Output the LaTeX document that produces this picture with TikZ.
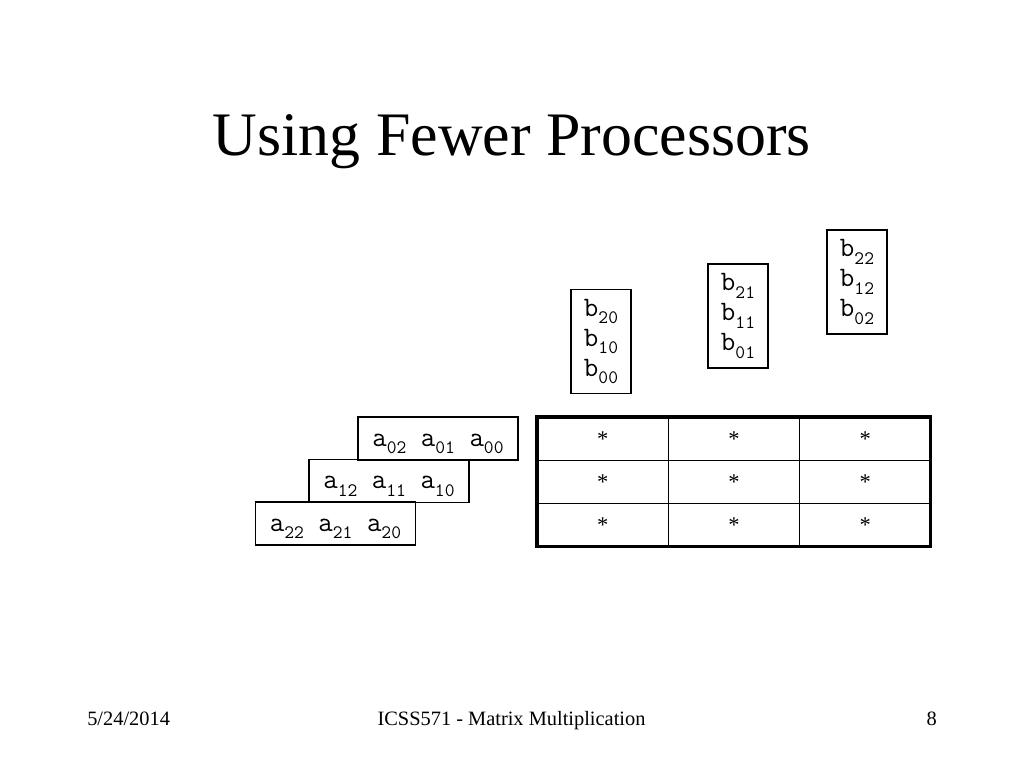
\documentclass[tikz,border=0pt]{standalone}
\usepackage{fontspec}
\setmainfont{Liberation Serif}
\usetikzlibrary{positioning}
\tikzset{arow/.style={draw,rectangle, line width=0.8pt, inner sep=0pt, outer sep=0pt,
    minimum width=4cm, minimum height=1.075cm, text height=0.5cm, text depth=0.125cm,
    font=\fontsize{20}{21.3}\ttfamily},
  bcol/.style={draw,rectangle, line width=0.8pt, inner sep=0pt, outer sep=0pt,
    minimum width=1.5cm, minimum height=2.6cm, align=left,
    font=\fontsize{20}{21.3}\ttfamily},
  cell/.style={draw,rectangle, line width=0.9pt, inner sep=0pt, outer sep=0pt,
    minimum width=3.283cm, minimum height=1.083cm, font=\fontsize{16}{18}\selectfont},
  foot/.style={anchor=base, inner sep=0pt, font=\fontsize{14.5}{16}\selectfont}}
\newcommand{\sbs}[1]{\raisebox{-0.27em}{\fontsize{13.5}{14}\selectfont #1}}

\begin{document}
\begin{tikzpicture}[x=0.025cm, y=-0.025cm]
		\useasboundingbox (0,0) rectangle (1024,768);
		\node[anchor=base, inner sep=0pt, font=\fontsize{44}{50}\selectfont] (ttl) at (512,156) {Using Fewer Processors};
		
		% rows of A, shifted left one by one
		\node[arow] (a0) at (438,438.5) {a\sbs{02} a\sbs{01} a\sbs{00}};
		\node[arow] (a1) at (389,481) {a\sbs{12} a\sbs{11} a\sbs{10}};
		\node[arow] (a2) at (335.5,523.5) {a\sbs{22} a\sbs{21} a\sbs{20}};
		
		% columns of B, shifted up one by one
		\node[bcol] (b0) at (601,341.5) {b\sbs{20}\\b\sbs{10}\\b\sbs{00}};
		\node[bcol] (b1) at (738,316) {b\sbs{21}\\b\sbs{11}\\b\sbs{01}};
		\node[bcol] (b2) at (857,282) {b\sbs{22}\\b\sbs{12}\\b\sbs{02}};
		
		% processor grid
		\foreach \r in {0,1,2}
		\foreach \c in {0,1,2}
		\node[cell] (p\r\c) at ({537+131.3*(\c+0.5)},{417+43.3*(\r+0.5)}) {*};
		\draw[line width=2.2pt] (p00.north west) rectangle (p22.south east);
		
		\node[foot, anchor=base west] (date) at (87,725) {5/24/2014};
		\node[foot] (course) at (511.5,725) {ICSS571 - Matrix Multiplication};
		\node[foot, anchor=base east] (page) at (937,725) {8};
		\end{tikzpicture}
\end{document}
